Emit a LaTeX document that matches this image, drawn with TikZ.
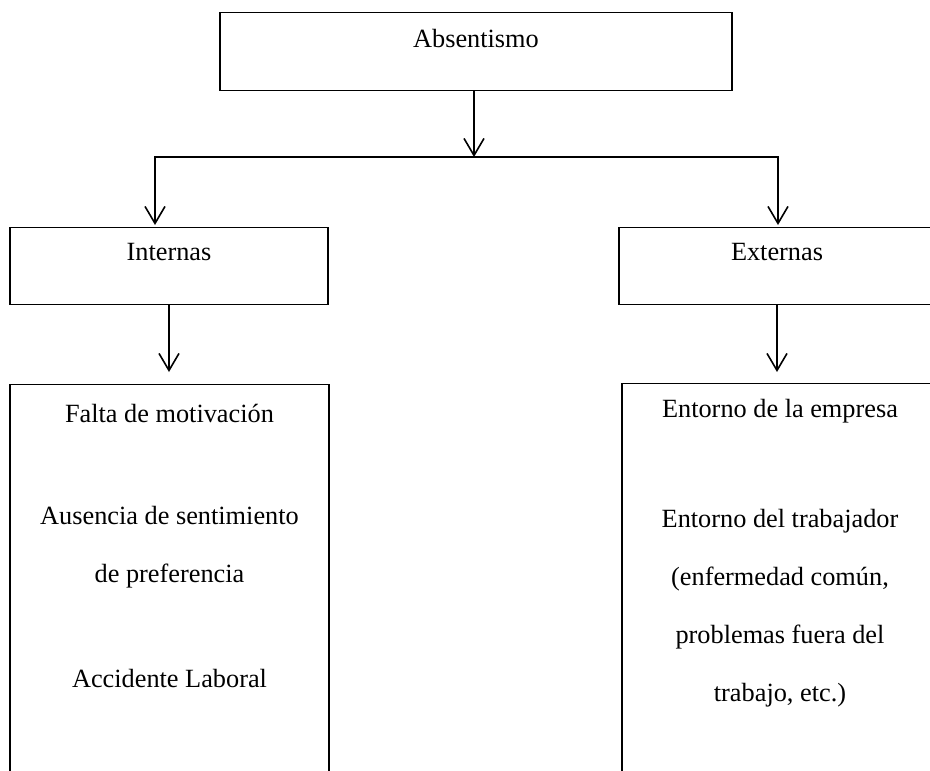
\documentclass[tikz,border=0pt]{standalone}
\usepackage{fontspec}
\setmainfont{Liberation Serif}
\usetikzlibrary{positioning}
\usetikzlibrary{arrows.meta}
\usetikzlibrary{calc}

\begin{document}
\begin{tikzpicture}[x=1pt,y=-1pt,>={Straight Barb[length=17pt,width=20pt]},
                    every node/.style={font=\fontsize{26.3}{30}\selectfont},
                    box/.style={rectangle,draw,line width=1.2pt,inner sep=0pt,anchor=north},
                    list/.style={align=center,inner sep=0pt,font=\fontsize{26.3}{58}\selectfont}]
      \useasboundingbox (0,0) rectangle (930,771);

      \node[box, minimum width=512pt, minimum height=78pt, text height=35pt, text depth=43pt] (1) at (476,12) {Absentismo};
      \node[box, minimum width=318pt, minimum height=77pt, text height=33pt, text depth=44pt] (2) at (169,227) {Internas};
      \node[box, minimum width=316pt, minimum height=77pt, text height=33pt, text depth=44pt] (3) at (777,227) {Externas};
      \node[box, minimum width=319pt, minimum height=430pt] (4) at (169.5,384) {};
      \node[box, minimum width=316pt, minimum height=430pt] (5) at (780,383) {};

      \node[list] (6) [below=20pt of 4.north] {Falta de motivación\\[44pt]
        Ausencia de sentimiento\\de preferencia\\[47pt]
        Accidente Laboral};
      \node[list] (7) [below=16pt of 5.north] {Entorno de la empresa\\[52pt]
        Entorno del trabajador\\(enfermedad común,\\problemas fuera del\\trabajo, etc.)};

      \coordinate (j) at (474,157);
      \coordinate (l) at (155,157);
      \coordinate (r) at (778,157);

      \path[line width=1.6pt]
	(1.south -| j) edge[->] (j)
	(2.south) edge[->, shorten >=12pt] (2.south |- 4.north)
	(3.south) edge[->, shorten >=11pt] (3.south |- 5.north);
      \draw[line width=1.6pt, <->, shorten <=2pt, shorten >=2pt]
	(l |- 2.north) -- (l) -- (r) -- (r |- 3.north);

\end{tikzpicture}
\end{document}
